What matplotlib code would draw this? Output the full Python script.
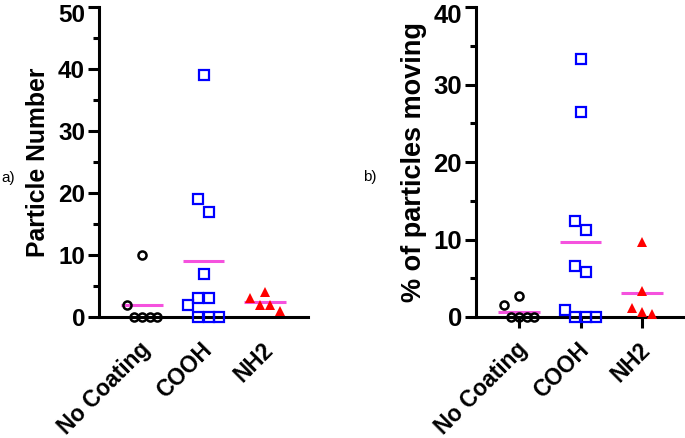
import numpy as np
import matplotlib
matplotlib.use("Agg")
import matplotlib.pyplot as plt
from matplotlib.transforms import ScaledTranslation

# Data
groups = ["No Coating", "COOH", "NH2"]
count_nc = [10, 2, 0, 0, 0, 0]
count_cooh = [39, 19, 17, 7, 3, 3, 2, 0, 0, 0]
count_nh2 = [4, 3, 2, 2, 1]
pct_nc = [2.75, 1.5, 0, 0, 0, 0]
pct_cooh = [33.3, 26.5, 12.4, 11.3, 6.6, 5.8, 0.9, 0, 0, 0]
pct_nh2 = [9.7, 3.3, 1.1, 0.7, 0.4]

plt.rcParams['font.family'] = ['Liberation Sans', 'DejaVu Sans']

DPI = 100
W, H = 685, 438
MEAN_COLOR = '#F552DE'
styles = [
    dict(marker='o', ms=5.8, mfc='none', mec='black', mew=1.8, step=7.6),
    dict(marker='s', ms=6.6, mfc='none', mec='#0000FF', mew=1.6, step=10.2),
    dict(marker='^', ms=7.4, mfc='#FF0000', mec='#FF0000', mew=0, step=10.2),
]


def swarm_offsets(vals, row_px, step_px, px_y, px_x):
    # Prism-like rows: points within row_px of the row's lowest value share a row
    vals = np.asarray(vals, dtype=float)
    order = list(np.argsort(vals, kind='stable'))
    offs = np.zeros(len(vals))
    i = 0
    while i < len(order):
        start = vals[order[i]]
        j = i
        while j < len(order) and (vals[order[j]] - start) * px_y < row_px:
            j += 1
        row = sorted(order[i:j], key=lambda k: -vals[k])
        n = len(row)
        for r, k in enumerate(row):
            offs[k] = (r - (n - 1) / 2) * step_px / px_x
        i = j
    return offs


def panel(left_px, ymax, major, data, ylabel, label_size, tick_size, xticks_on):
    top_px, bottom_px, width_px = 7.3, 317, 209
    ax = fig.add_axes([left_px / W, (H - bottom_px) / H, width_px / W,
                       (bottom_px - top_px) / H])
    xlo, xhi = -0.7, 2.7
    ax.set_xlim(xlo, xhi)
    ax.set_ylim(0, ymax)
    px_x = width_px / (xhi - xlo)
    px_y = (bottom_px - top_px) / ymax

    for i, vals in enumerate(data):
        st = dict(styles[i])
        step = st.pop('step')
        offs = swarm_offsets(vals, 15, step, px_y, px_x)
        ax.plot(i + offs, vals, linestyle='none', clip_on=False, zorder=4, **st)
        m = np.mean(vals)
        ax.plot([i - 0.34, i + 0.34], [m, m], color=MEAN_COLOR, lw=2.2,
                solid_capstyle='butt', zorder=3)

    for s in ['top', 'right']:
        ax.spines[s].set_visible(False)
    for s in ['left', 'bottom']:
        ax.spines[s].set_linewidth(2.2)

    ax.set_yticks(np.arange(0, ymax + 1, major))
    ax.set_yticks(np.arange(major / 2, ymax, major), minor=True)
    ax.tick_params(axis='y', which='major', length=8, width=2.2, pad=2,
                   labelsize=tick_size)
    ax.tick_params(axis='y', which='minor', length=4, width=2.2)
    ax.set_xticks(range(len(groups)))
    ax.set_xticklabels(groups, rotation=45, ha='right', va='center',
                       rotation_mode='anchor', fontsize=16.3, fontweight='bold')
    ax.tick_params(axis='x', which='major', length=8 if xticks_on else 0,
                   width=2.2, pad=13 if xticks_on else 21)
    for t in ax.get_yticklabels():
        t.set_fontweight('bold')
    # the top label sits a little lower, as in the reference
    top = ax.get_yticklabels()[-1]
    top.set_transform(top.get_transform() +
                      ScaledTranslation(0, -6 / DPI, fig.dpi_scale_trans))
    ax.set_ylabel(ylabel, fontsize=label_size, fontweight='bold')
    ax.yaxis.set_label_coords(-0.234, 0.5)
    shift = ScaledTranslation(5 / DPI, 0, fig.dpi_scale_trans)
    for t in ax.get_xticklabels():
        t.set_transform(t.get_transform() + shift)
    return ax


fig = plt.figure(figsize=(W / DPI, H / DPI), dpi=DPI)
ax_a = panel(99, 50, 10, [count_nc, count_cooh, count_nh2],
             'Particle Number', 17.8, 17.5, False)
ax_b = panel(476, 40, 10, [pct_nc, pct_cooh, pct_nh2],
             '% of particles moving', 19.5, 18.5, True)

fig.text(1 / W, 1 - 178 / H, 'a)', fontsize=11, ha='left', va='center')
fig.text(363 / W, 1 - 177 / H, 'b)', fontsize=11, ha='left', va='center')

fig.savefig('out.png', dpi=DPI)
